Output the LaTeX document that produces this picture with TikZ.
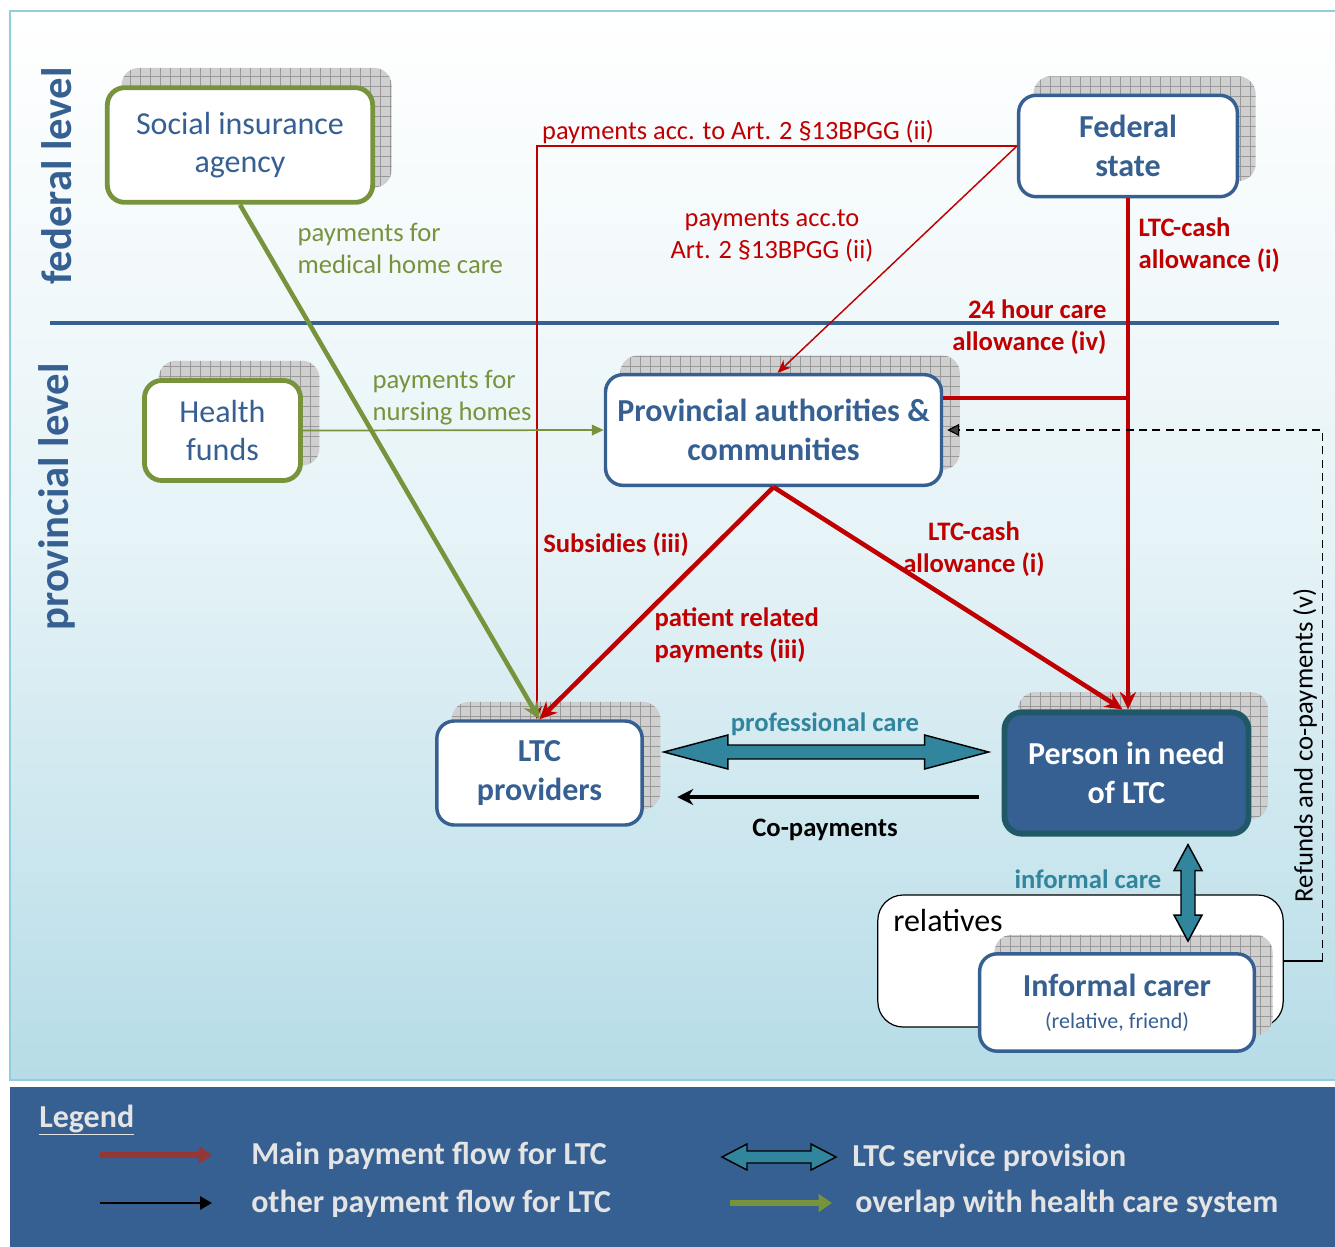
\documentclass[tikz,border=0pt]{standalone}
\usepackage{fontspec}
\setmainfont{Carlito}
\usetikzlibrary{arrows.meta,calc,patterns.meta}
\definecolor{cblue}{HTML}{366092}
\definecolor{cgreen}{HTML}{77933C}
\definecolor{cred}{HTML}{C00000}
\definecolor{cteal}{HTML}{31859C}
\definecolor{cdark}{HTML}{215868}
\definecolor{cframe}{HTML}{92CDDC}
\definecolor{cbot}{HTML}{B6DCE7}
\definecolor{clegred}{HTML}{953735}
\definecolor{clegtext}{HTML}{E4E4E4}
\pgfdeclarelayer{bgl}\pgfdeclarelayer{shdl}\pgfsetlayers{bgl,shdl,main}
\newcommand\fsz[2]{\fontsize{#1}{#2}\selectfont}
\newcommand\boxshadow[1]{\begin{pgfonlayer}{shdl}\path[shd] ([xshift=12.4pt,yshift=13pt]#1.south west) rectangle ([xshift=12.4pt,yshift=13pt]#1.north east);\end{pgfonlayer}}
\newcommand\hblock[5]{\draw[blockst] (#1) -- ($(#1)+(#3,-#4)$) -- ($(#1)+(#3,-#5)$) -- ($(#2)+(-#3,-#5)$) -- ($(#2)+(-#3,-#4)$) -- (#2) -- ($(#2)+(-#3,#4)$) -- ($(#2)+(-#3,#5)$) -- ($(#1)+(#3,#5)$) -- ($(#1)+(#3,#4)$) -- cycle;}
\newcommand\vblock[5]{\draw[blockst] (#1) -- ($(#1)+(#4,#3)$) -- ($(#1)+(#5,#3)$) -- ($(#2)+(#5,-#3)$) -- ($(#2)+(#4,-#3)$) -- (#2) -- ($(#2)+(-#4,-#3)$) -- ($(#2)+(-#5,-#3)$) -- ($(#1)+(-#5,#3)$) -- ($(#1)+(-#4,#3)$) -- cycle;}
\begin{document}
\begin{tikzpicture}[x=0.75pt,y=-0.75pt,
  shd/.style={rounded corners=13pt, preaction={fill=gray!38}, pattern={Hatch[distance=7.5pt,line width=0.5pt]}, pattern color=gray!80},
  box/.style={draw, rounded corners=13pt, fill=white, align=center, inner sep=2pt},
  greenbox/.style={box, draw=cgreen, line width=3.6pt, text=cblue, font=\fsz{24pt}{29pt}},
  bluebox/.style={box, draw=cblue, line width=2.6pt, text=cblue, font=\bfseries\fsz{24pt}{29pt}},
  personbox/.style={box, fill=cblue, draw=cdark, line width=4.4pt, text=white, font=\bfseries\fsz{24pt}{29pt}},
  relbox/.style={draw=black, line width=0.9pt, rounded corners=19pt, fill=white},
  redthin/.style={cred, line width=1.1pt, -{Stealth[length=10pt,width=8pt]}},
  redthick/.style={cred, line width=3.4pt, -{Stealth[length=13pt,width=12pt]}},
  greenthick/.style={cgreen, line width=3.4pt, -{Stealth[length=13pt,width=12pt]}},
  greenthin/.style={cgreen, line width=1.3pt, -{Triangle[length=9pt,width=8pt]}},
  blockst/.style={fill=cteal, draw=black, line width=1.1pt, line join=miter},
  redlab/.style={text=cred, font=\fsz{19.8pt}{24pt}, align=center, inner sep=1pt},
  redbold/.style={text=cred, font=\bfseries\fsz{20pt}{24pt}, align=center, inner sep=1pt},
  greenlab/.style={text=cgreen, font=\fsz{20pt}{24pt}, align=left, inner sep=1pt},
  teallab/.style={text=cteal, font=\bfseries\fsz{20pt}{24pt}, inner sep=1pt},
  levellab/.style={text=cblue, font=\bfseries\fsz{32pt}{36pt}, rotate=90, inner sep=0pt},
  legtext/.style={text=clegtext, font=\bfseries\fsz{24pt}{28pt}, inner sep=0pt, anchor=west}]
\useasboundingbox (0,0) rectangle (1335,1246);
\begin{pgfonlayer}{bgl}
  \fill[white] (0,0) rectangle (1335,1246);
  \shade[top color=white, bottom color=cbot, middle color=cbot!35] (10,11) rectangle (1345,1080);
  \draw[cframe, line width=2.2pt] (10,11) rectangle (1345,1080);
  \fill[cblue] (10,1087) rectangle (1345,1252);
  \node[relbox, minimum width=304pt, minimum height=99pt] (rel) at (1080.5,961) {};
\end{pgfonlayer}

% divider and level labels
\coordinate (dl) at (50,323);
\coordinate (dr) at (1279,323);
\draw[cblue, line width=3.6pt] (dl) -- (dr);
\node[levellab] (fedlev) at (57,176) {federal level};
\node[levellab] (provlev) at (57,497) {provincial level};

% boxes
\node[greenbox, minimum width=199pt, minimum height=86pt] (soc) at (240,145) {Social insurance\\agency};
\node[bluebox, minimum width=164pt, minimum height=76pt] (fed) at (1128,146) {Federal\\state};
\node[greenbox, minimum width=117pt, minimum height=75pt] (hf) at (222.5,430.5) {Health\\funds};
\node[bluebox, minimum width=252pt, minimum height=83pt] (prov) at (773.5,430) {Provincial authorities \&\\communities};
\node[bluebox, minimum width=154pt, minimum height=78pt] (ltc) at (539.5,773) {LTC\\providers};
\node[personbox, minimum width=183pt, minimum height=91pt] (person) at (1126.5,773) {Person in need\\of LTC};
\node[bluebox, minimum width=206pt, minimum height=73pt, font=\bfseries\fsz{24pt}{24pt}] (ic) at (1117,1002.5) {Informal carer\\{\mdseries\fsz{16.5pt}{21pt}(relative, friend)}};
\node[text=black, font=\fsz{24pt}{28pt}, anchor=west, inner sep=0pt] (reltext) at (893,920) {relatives};

\boxshadow{soc}
\boxshadow{fed}
\boxshadow{hf}
\boxshadow{prov}
\boxshadow{ltc}
\boxshadow{person}
\boxshadow{ic}

% connectors
\draw[redthin] (fed.west) -| ([xshift=-2pt]ltc.north);
\draw[redthin] (fed.west) -- ([xshift=3pt]prov.north);
\draw[redthick] (fed.south) -- (fed.south |- person.north);
\draw[cred, line width=3.4pt] ([yshift=24pt]prov.east) -- ([yshift=24pt]prov.east -| fed.south);
\draw[redthick] (prov.south) -- (ltc.north);
\draw[redthick] (prov.south) -- ([xshift=-3pt]person.north);
\draw[greenthick] (soc.south) -- (ltc.north);
\draw[greenthin] (hf.east) -- (prov.west);
\draw[black, line width=3pt, -{Stealth[length=12pt,width=12pt]}] ([xshift=-17pt,yshift=-18pt]person.west) -- ([xshift=25pt,yshift=-18pt]ltc.east);

\coordinate (rc) at ($(rel.east)+(39,0)$);
\draw[black, line width=0.9pt] (rel.east) -- (rc);
\draw[black, line width=0.9pt, dash pattern=on 6pt off 4pt, -{Triangle[length=9pt,width=9pt,fill=black!75]}] (rc) -- (rc |- prov.east) -- ([xshift=3pt]prov.east);

\coordinate (pcA) at ($(ltc.east)+(20,-21)$);
\coordinate (pcB) at ($(person.west)+(-13,-21)$);
\hblock{pcA}{pcB}{64}{17}{7}
\coordinate (icA) at ($(person.south)+(61.5,8)$);
\coordinate (icB) at ($(ic.north)+(71,-11)$);
\vblock{icA}{icB}{26}{14}{7}

% labels
\node[redlab] (l1) at (738,132) {payments acc. to Art. 2 §13BPGG (ii)};
\node[redlab] (l2) at (772,236) {payments acc.to\\Art. 2 §13BPGG (ii)};
\node[redbold, anchor=west, align=left] (l3) at (1137,245) {LTC-cash\\allowance (i)};
\node[redbold, anchor=east, align=right] (l4) at (1108,327) {24 hour care\\allowance (iv)};
\node[greenlab, anchor=west] (l5) at (296,248) {payments for\\medical home care};
\node[greenlab, anchor=west] (l6) at (371,398) {payments for\\nursing homes};
\node[redbold] (l7) at (616,545) {Subsidies (iii)};
\node[redbold, anchor=west, align=left] (l8) at (653,635) {patient related\\payments (iii)};
\node[redbold] (l9) at (974,549) {LTC-cash\\allowance (i)};
\node[teallab] (l10) at (825,724) {professional care};
\node[font=\bfseries\fsz{20pt}{24pt}, inner sep=1pt] (l11) at (825,830) {Co-payments};
\node[teallab] (l12) at (1088,879) {informal care};
\node[rotate=90, font=\fsz{20pt}{24pt}, inner sep=0pt] (l13) at (1305,745) {Refunds and co-payments (v)};

% legend
\node[legtext] (lg) at (39,1120) {\underline{Legend}};
\coordinate (g1a) at (100,1155); \coordinate (g1b) at (212,1155);
\draw[clegred, line width=5pt, -{Triangle[length=10pt,width=13pt]}] (g1a) -- (g1b);
\coordinate (g2a) at (100,1203); \coordinate (g2b) at (212,1203);
\draw[black, line width=1.6pt, -{Triangle[length=9pt,width=10pt]}] (g2a) -- (g2b);
\coordinate (g3a) at (722,1157); \coordinate (g3b) at (836,1157);
\hblock{g3a}{g3b}{25}{13}{6}
\coordinate (g4a) at (730,1203); \coordinate (g4b) at (832,1203);
\draw[cgreen, line width=5pt, -{Triangle[length=10pt,width=13pt]}] (g4a) -- (g4b);
\node[legtext] (t1) at (251,1156) {Main payment flow for LTC};
\node[legtext] (t2) at (251,1204) {other payment flow for LTC};
\node[legtext] (t3) at (852,1158) {LTC service provision};
\node[legtext] (t4) at (855,1204) {overlap with health care system};
\end{tikzpicture}
\end{document}
